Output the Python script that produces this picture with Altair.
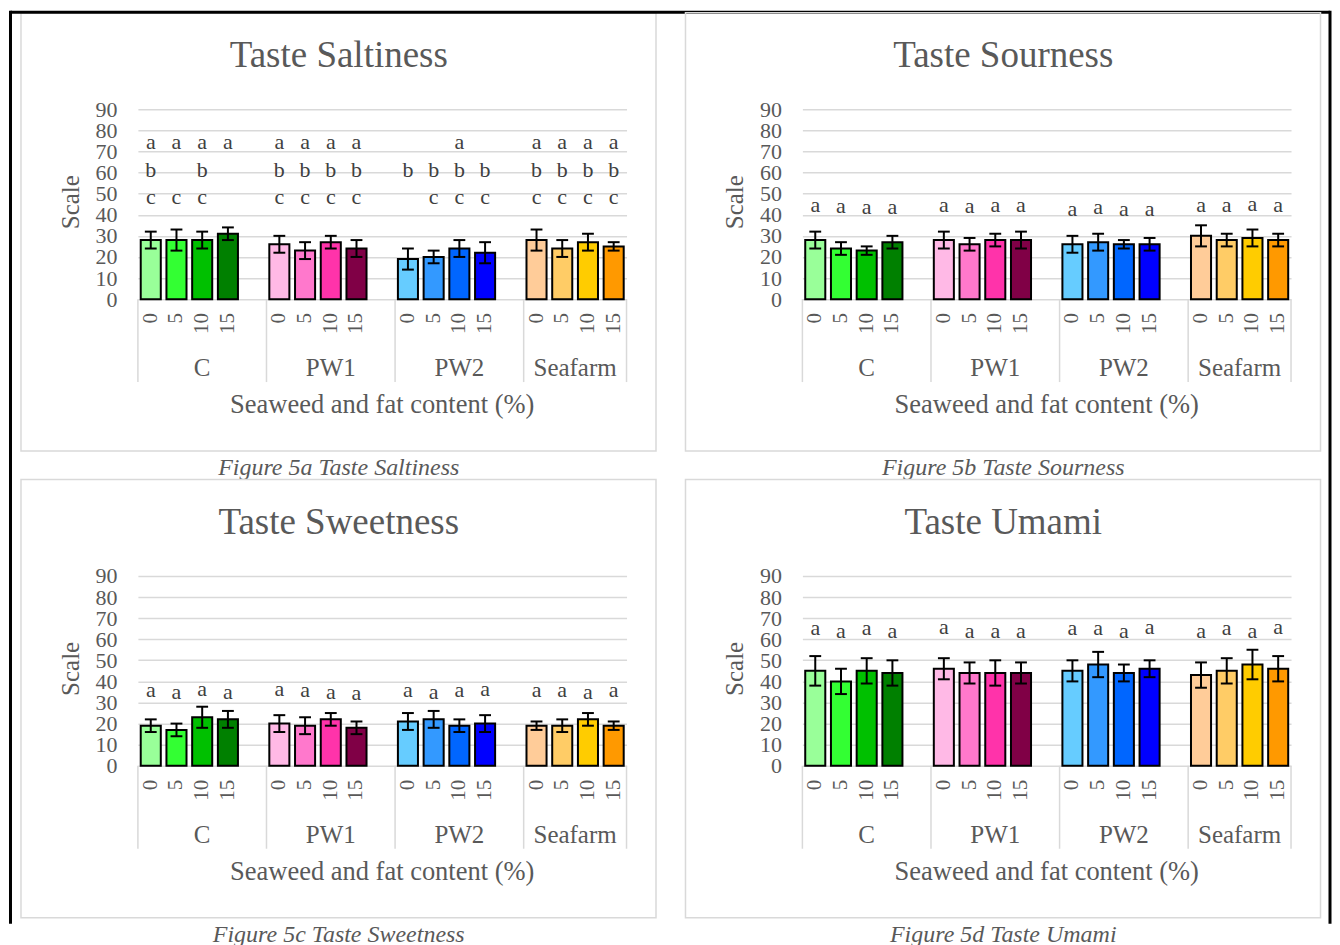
import altair as alt
import pandas as pd

# ---------------- data ----------------
groups = ["C", "PW1", "PW2", "Seafarm"]
levels = ["0", "5", "10", "15"]
bar_colors = ["#99ff99", "#33ff33", "#00c000", "#008000",
              "#ffb9e6", "#ff78cc", "#ff33aa", "#800046",
              "#66ccff", "#3399ff", "#0066ff", "#0000ff",
              "#ffcc99", "#ffcc66", "#ffcc00", "#ff9900"]
y_ticks = [0, 10, 20, 30, 40, 50, 60, 70, 80, 90]

titles = ["Taste Saltiness", "Taste Sourness", "Taste Sweetness", "Taste Umami"]
captions = ["Figure 5a Taste Saltiness", "Figure 5b Taste Sourness",
            "Figure 5c Taste Sweetness", "Figure 5d Taste Umami"]
x_title = "Seaweed and fat content (%)"
y_title = "Scale"

saltiness_mean = [28, 28, 28, 31, 26, 23, 27, 24, 19, 20, 24, 22, 28, 24, 27, 25]
saltiness_err = [4, 5, 4, 3, 4, 4, 3, 4, 5, 3, 4, 5, 5, 4, 4, 2]
saltiness_letters = ["abc", "ac", "abc", "a", "abc", "abc", "abc", "abc",
                     "b", "bc", "abc", "bc", "abc", "abc", "abc", "abc"]
saltiness_letter_rows = {"a": 71, "b": 58, "c": 45}

sourness_mean = [28, 24, 23, 27, 28, 26, 28, 28, 26, 27, 26, 26, 30, 28, 29, 28]
sourness_err = [4, 3, 2, 3, 4, 3, 3, 4, 4, 4, 2, 3, 5, 3, 4, 3]
sourness_letter_y = [41.5, 41, 40.5, 40.5, 41.5, 41, 41.5, 41.5,
                     39.5, 40.5, 39.5, 39.5, 41.5, 41.5, 42, 41.5]

sweetness_mean = [19, 17, 23, 22, 20, 19, 22, 18, 21, 22, 19, 20, 19, 19, 22, 19]
sweetness_err = [3, 3, 5, 4, 4, 4, 3, 3, 4, 4, 3, 4, 2, 3, 3, 2]
sweetness_letter_y = [32.4, 31.7, 33.3, 31.7, 33.3, 32.4, 31.7, 31.3,
                      32.4, 31.7, 32.4, 33.3, 32.4, 32.4, 31.7, 32.4]

umami_mean = [45, 40, 45, 44, 46, 44, 44, 44, 45, 48, 44, 46, 43, 45, 48, 46]
umami_err = [7, 6, 6, 6, 5, 5, 6, 5, 5, 6, 4, 4, 6, 6, 7, 6]
umami_letter_y = [61.8, 60.8, 61.8, 60.8, 62.7, 60.8, 60.8, 60.8,
                  61.8, 61.8, 60.8, 62.7, 60.8, 61.8, 60.8, 62.7]

# ---------------- styling ----------------
W, H = 489, 190
FONT = "Liberation Serif"
GRAY = "#595959"
GRID = "#d9d9d9"
N_CATS = 19  # 4 groups x 4 levels + 3 spacer slots

xscale = alt.Scale(domain=[0, N_CATS], nice=False, zero=False)
yscale = alt.Scale(domain=[0, 90], nice=False)
yaxis = alt.Axis(values=y_ticks, title="", grid=True, gridColor=GRID, gridWidth=1.5,
                 domain=False, ticks=False, labelFont=FONT, labelFontSize=22,
                 labelColor=GRAY, labelPadding=21, labelOverlap=False)


def one(**kw):
    return pd.DataFrame([kw])


def make_panel(p, means, errs, letter_rows, outer=False):
    rows = []
    for g, grp in enumerate(groups):
        for k, lev in enumerate(levels):
            j = g * 4 + k
            idx = g * 5 + k
            rows.append(dict(level=lev, pos=idx + 0.5, x0=idx + 0.11, x1=idx + 0.89,
                             cl=idx + 0.27, cr=idx + 0.73, mean=means[j],
                             lo=means[j] - errs[j], hi=means[j] + errs[j],
                             color=bar_colors[j]))
    df = pd.DataFrame(rows)
    ldf = pd.DataFrame(letter_rows)

    gdf = pd.DataFrame({"grp": groups, "center": [2.5, 7.5, 12.5, 17.0]})
    ddf = pd.DataFrame({"d": [0, 5, 10, 15, 19]})

    base = alt.Chart(df)
    bars = base.mark_bar(stroke="black", strokeWidth=2).encode(
        x=alt.X("x0:Q", scale=xscale, axis=None), x2="x1:Q",
        y=alt.Y("mean:Q", scale=yscale, axis=yaxis), y2=alt.datum(0),
        fill=alt.Color("color:N", scale=None))
    err = base.mark_rule(color="black", strokeWidth=2).encode(
        x=alt.X("pos:Q", scale=xscale, axis=None),
        y=alt.Y("lo:Q", scale=yscale, axis=yaxis), y2="hi:Q")
    cap_hi = base.mark_rule(color="black", strokeWidth=2).encode(
        x=alt.X("cl:Q", scale=xscale, axis=None), x2="cr:Q",
        y=alt.Y("hi:Q", scale=yscale, axis=yaxis))
    cap_lo = base.mark_rule(color="black", strokeWidth=2).encode(
        x=alt.X("cl:Q", scale=xscale, axis=None), x2="cr:Q",
        y=alt.Y("lo:Q", scale=yscale, axis=yaxis))
    letters = alt.Chart(ldf).mark_text(font=FONT, fontSize=22, color="#404040",
                                       baseline="alphabetic").encode(
        x=alt.X("pos:Q", scale=xscale, axis=None),
        y=alt.Y("ly:Q", scale=yscale, axis=yaxis), text="t:N")
    ticklabels = base.mark_text(font=FONT, fontSize=21, color=GRAY, angle=270,
                                align="right", baseline="middle").encode(
        x=alt.X("pos:Q", scale=xscale, axis=None), y=alt.value(H + 14), text="level:N")
    grouplabels = alt.Chart(gdf).mark_text(font=FONT, fontSize=25, color=GRAY,
                                           baseline="middle").encode(
        x=alt.X("center:Q", scale=xscale, axis=None), y=alt.value(H + 69), text="grp:N")
    dividers = alt.Chart(ddf).mark_rule(color=GRID, strokeWidth=1.5).encode(
        x=alt.X("d:Q", scale=xscale, axis=None), y=alt.value(H), y2=alt.value(H + 83))

    box = alt.Chart(one(a=0)).mark_rect(fillOpacity=0, stroke=GRID, strokeWidth=1.5).encode(
        x=alt.value(-117), x2=alt.value(518.5), y=alt.value(-96.5), y2=alt.value(342))
    title = alt.Chart(one(t=titles[p])).mark_text(font=FONT, fontSize=37, color=GRAY,
                                                  baseline="middle").encode(
        x=alt.value(201), y=alt.value(-53), text="t:N")
    ytitle = alt.Chart(one(t=y_title)).mark_text(font=FONT, fontSize=25, color=GRAY,
                                                 angle=270, baseline="middle").encode(
        x=alt.value(-67), y=alt.value(H / 2 - 2), text="t:N")
    xtitle = alt.Chart(one(t=x_title)).mark_text(font=FONT, fontSize=26.5, color=GRAY,
                                                 baseline="middle").encode(
        x=alt.value(W / 2), y=alt.value(H + 106), text="t:N")
    caption = alt.Chart(one(t=captions[p])).mark_text(font=FONT, fontSize=24, color=GRAY,
                                                      fontStyle="italic",
                                                      baseline="middle").encode(
        x=alt.value(201), y=alt.value(359), text="t:N")

    layers = [box, bars, err, cap_hi, cap_lo, letters, ticklabels, grouplabels,
              dividers, title, ytitle, xtitle, caption]
    if outer:
        top = alt.Chart(one(a=0)).mark_rule(color="black", strokeWidth=3).encode(
            x=alt.value(-127.5), x2=alt.value(1193), y=alt.value(-97))
        left = alt.Chart(one(a=0)).mark_rule(color="black", strokeWidth=3).encode(
            x=alt.value(-127.5), y=alt.value(-98.5), y2=alt.value(815))
        right = alt.Chart(one(a=0)).mark_rule(color="black", strokeWidth=3).encode(
            x=alt.value(1193), y=alt.value(-98.5), y2=alt.value(815))
        layers += [top, left, right]
    return alt.layer(*layers).properties(width=W, height=H)


def letter_table(letter_list, row_map):
    out = []
    for g in range(4):
        for k in range(4):
            j = g * 4 + k
            for ch in letter_list[j]:
                out.append(dict(pos=g * 5 + k + 0.5, t=ch, ly=row_map[ch]))
    return out


def single_a(ys):
    out = []
    for g in range(4):
        for k in range(4):
            j = g * 4 + k
            out.append(dict(pos=g * 5 + k + 0.5, t="a", ly=ys[j]))
    return out


pa = make_panel(0, saltiness_mean, saltiness_err,
                letter_table(saltiness_letters, saltiness_letter_rows), outer=True)
pb = make_panel(1, sourness_mean, sourness_err, single_a(sourness_letter_y))
pc = make_panel(2, sweetness_mean, sweetness_err, single_a(sweetness_letter_y))
pd_ = make_panel(3, umami_mean, umami_err, single_a(umami_letter_y))

chart = alt.concat(pa, pb, pc, pd_, columns=2,
                   spacing={"row": 277, "column": 176}, bounds="flush").properties(
    padding={"left": 0, "top": 0, "right": 0, "bottom": 0}
).configure_view(stroke="transparent")

chart.save("out.html", embed_options={"renderer": "svg", "actions": False})
